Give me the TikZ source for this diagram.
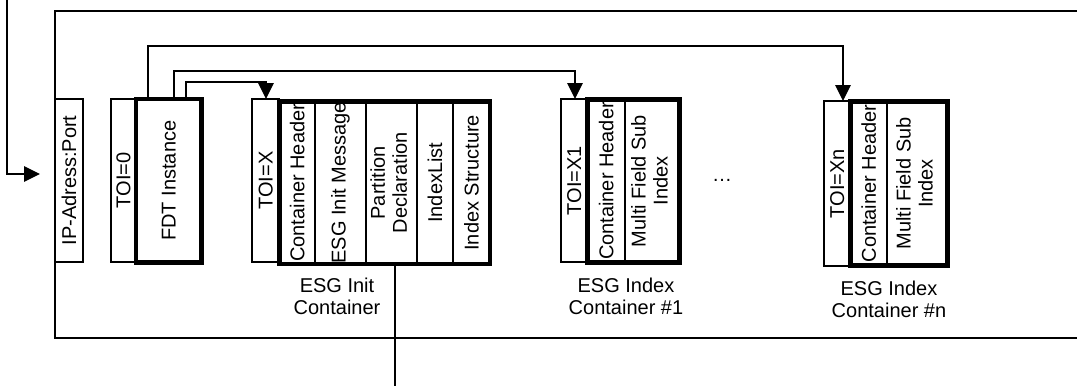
\documentclass[tikz,border=0pt]{standalone}
\usepackage{fontspec}
\setmainfont{Liberation Sans}
\usetikzlibrary{arrows.meta}
\begin{document}
\begin{tikzpicture}[x=1pt,y=-1pt,
  font=\fontsize{20}{22}\selectfont,
  thin/.style={line width=1.3pt},
  cell/.style={draw, thin, inner sep=0pt, outer sep=0pt},
  thickbox/.style={draw, line width=4.8pt, inner sep=0pt, outer sep=0pt},
  arr/.style={thin, -{Triangle[length=16pt,width=15.5pt]}},
  lbl/.style={align=center, inner sep=0pt}
]
\useasboundingbox (0,0) rectangle (1077,388);
% outer frame (open to the right)
\coordinate (ftr) at (1077,11);
\coordinate (ftl) at (55,11);
\coordinate (fbl) at (55,338);
\coordinate (fbr) at (1077,338);
\draw[line width=1.6pt] (ftr) -- (ftl) -- (fbl) -- (fbr);

% IP address box
\node[cell, minimum width=28pt, minimum height=163pt] (ip) at (69,180.5) {\rotatebox{90}{IP-Adress:Port}};
% input arrow
\coordinate (inA) at (7,0);
\coordinate (inB) at (7,174);
\coordinate (inC) at (40,174);
\draw[arr] (inA) -- (inB) -- (inC);

% FDT
\node[cell, minimum width=25pt, minimum height=163pt] (toi0) at (123.5,180.5) {\rotatebox{90}{TOI=0}};
\node[thickbox, minimum width=65.5pt, minimum height=163.5pt] (fdt) at (168.75,180.75) {\rotatebox{90}{FDT Instance}};

% ESG Init Container
\node[cell, minimum width=27.5pt, minimum height=163pt] (toix) at (265.75,180.5) {\rotatebox{90}{TOI=X}};
\node[cell, minimum width=35.5pt, minimum height=162.5pt] (i1) at (297.25,182.75) {\rotatebox{90}{Container Header}};
\node[cell, minimum width=51pt, minimum height=162.5pt] (i2) at (340.5,182.75) {\rotatebox{90}{ESG Init Message}};
\node[cell, minimum width=51pt, minimum height=162.5pt] (i3) at (391.5,182.75) {\rotatebox{90}{\begin{tabular}{@{}c@{}}Partition\\Declaration\end{tabular}}};
\node[cell, minimum width=36pt, minimum height=162.5pt] (i4) at (435,182.75) {\rotatebox{90}{IndexList}};
\node[cell, minimum width=37pt, minimum height=162.5pt] (i5) at (471.5,182.75) {\rotatebox{90}{Index Structure}};
\node[thickbox, minimum width=210.5pt, minimum height=162.5pt] (init) at (384.75,182.75) {};
\node[lbl] (initlbl) at (337,296) {ESG Init\\Container};

% ESG Index Container #1
\node[cell, minimum width=26.5pt, minimum height=163pt] (toix1) at (574.25,180.5) {\rotatebox{90}{TOI=X1}};
\node[cell, minimum width=37.5pt, minimum height=163pt] (a1) at (606.25,181) {\rotatebox{90}{Container Header}};
\node[cell, minimum width=54.5pt, minimum height=163pt] (a2) at (652.25,181) {\rotatebox{90}{\begin{tabular}{@{}c@{}}Multi Field Sub\\Index\end{tabular}}};
\node[thickbox, minimum width=92pt, minimum height=163pt] (idx1) at (633.5,181) {};
\node[lbl] (idx1lbl) at (626,296) {ESG Index\\Container \#1};

\node[anchor=base, inner sep=0pt] (dots) at (722,181) {…};

% ESG Index Container #n
\node[cell, minimum width=26.5pt, minimum height=165pt] (toixn) at (837.25,183.5) {\rotatebox{90}{TOI=Xn}};
\node[cell, minimum width=36.5pt, minimum height=164pt] (b1) at (868.75,183.5) {\rotatebox{90}{Container Header}};
\node[cell, minimum width=60.5pt, minimum height=164pt] (b2) at (917.25,183.5) {\rotatebox{90}{\begin{tabular}{@{}c@{}}Multi Field Sub\\Index\end{tabular}}};
\node[thickbox, minimum width=97pt, minimum height=164pt] (idxn) at (899,183.5) {};
\node[lbl] (idxnlbl) at (889,299) {ESG Index\\Container \#n};

% arrows from FDT
\coordinate (h1) at (843,46);
\coordinate (h2) at (575,71);
\coordinate (h3) at (266,82);
\draw[arr] ([xshift=12pt]fdt.north west) |- (h1) -- (h1 |- toixn.north);
\draw[arr] ([xshift=38pt]fdt.north west) |- (h2) -- (h2 |- toix1.north);
\draw[arr] ([xshift=50pt]fdt.north west) |- (h3) -- (h3 |- toix.north);

% output line from ESG Init
\coordinate (outEnd) at (395,386);
\draw[thin] (init.south -| outEnd) -- (outEnd);
\end{tikzpicture}
\end{document}
